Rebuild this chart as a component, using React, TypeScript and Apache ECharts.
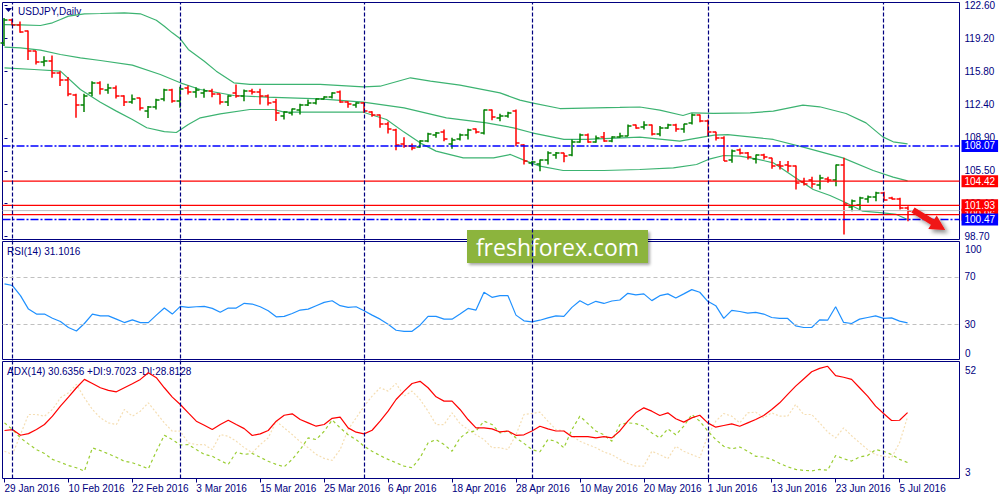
import { useEffect, useRef } from "react";
import * as echarts from "echarts";

// daily bars, 29 Jan 2016 .. 6 Jul 2016 (index 0..113)
const open = [
  118.7, 121.05, 120.6, 119.95, 117.85, 116.8, 116.9, 115.6, 114.9, 113.3,
  112.3, 113.5, 114.6, 113.9, 114.1, 113.2, 112.6, 113.0, 111.7, 112.1,
  112.9, 113.9, 112.7, 114.1, 113.6, 113.5, 113.8, 113.4, 112.6, 113.5,
  113.2, 113.8, 113.7, 113.2, 112.6, 111.2, 111.5, 111.8, 112.3, 112.5,
  112.9, 113.1, 113.6, 112.6, 112.3, 112.5, 111.6, 111.3, 110.3, 109.7,
  108.3, 108.1, 108.0, 108.6, 109.2, 109.5, 108.3, 108.8, 109.2, 109.8,
  109.4, 111.8, 111.0, 111.2, 111.7, 108.2, 106.3, 106.2, 106.6, 107.1,
  107.3, 107.1, 108.5, 109.2, 108.5, 109.0, 108.6, 109.0, 109.1, 110.2,
  110.0, 110.2, 109.3, 109.9, 110.2, 109.8, 110.4, 111.3, 110.7, 109.5,
  108.9, 106.6, 107.6, 107.3, 106.7, 107.1, 106.8, 106.1, 106.1, 106.0,
  104.3, 104.5, 104.0, 104.7, 104.5, 106.1, 101.8, 102.0, 102.6, 102.8,
  103.2, 102.65, 102.6, 101.7,
];
const high = [
  121.3, 121.22, 120.94, 120.01, 117.88, 117.36, 117.43, 115.81, 115.19, 113.46,
  113.46, 114.77, 114.77, 114.5, 114.32, 113.32, 113.39, 113.05, 112.19, 112.95,
  113.98, 113.98, 114.19, 114.32, 114.15, 113.98, 113.98, 113.46, 113.32, 114.42,
  113.9, 113.98, 113.98, 113.39, 112.95, 111.67, 111.95, 112.43, 112.88, 112.98,
  113.22, 113.63, 113.81, 112.7, 112.6, 112.6, 111.67, 111.32, 110.56, 109.84,
  108.98, 108.32, 108.67, 109.43, 109.5, 109.77, 108.91, 109.36, 109.84, 109.87,
  111.84, 111.84, 111.39, 111.6, 111.84, 108.25, 106.5, 106.67, 107.53, 107.43,
  107.36, 108.74, 109.36, 109.36, 109.15, 109.5, 109.08, 109.43, 110.29, 110.29,
  110.63, 110.29, 110.12, 110.36, 110.36, 110.36, 111.43, 111.32, 110.8, 109.53,
  109.08, 107.7, 107.8, 107.43, 107.18, 107.25, 106.84, 106.5, 106.5, 106.05,
  104.77, 104.87, 105.08, 104.87, 106.15, 106.84, 102.53, 102.81, 102.94, 103.32,
  103.32, 102.81, 102.7, 101.84,
];
const low = [
  118.4, 120.53, 119.77, 116.95, 116.5, 116.32, 115.12, 114.26, 113.22, 110.98,
  111.57, 113.22, 113.39, 113.46, 112.98, 112.19, 112.43, 111.74, 110.95, 111.84,
  112.7, 112.53, 112.02, 113.39, 113.05, 113.05, 113.12, 112.36, 112.19, 113.05,
  112.7, 113.39, 112.36, 112.26, 110.64, 110.81, 111.22, 111.33, 112.19, 112.36,
  112.88, 112.98, 112.53, 112.01, 112.01, 111.5, 111.08, 109.94, 109.36, 107.63,
  107.87, 107.63, 107.87, 108.46, 108.91, 108.56, 107.77, 108.63, 108.74, 109.36,
  109.25, 110.74, 110.63, 110.98, 108.05, 106.15, 106.05, 105.46, 106.15, 106.74,
  106.39, 107.01, 108.39, 108.39, 108.39, 108.5, 108.46, 108.91, 109.08, 109.84,
  109.77, 109.15, 109.08, 109.84, 109.53, 109.43, 110.29, 110.53, 109.08, 108.63,
  106.5, 106.32, 107.18, 106.67, 106.25, 106.67, 105.7, 105.63, 105.39, 103.56,
  103.98, 103.74, 103.56, 104.25, 103.91, 98.91, 101.32, 101.5, 102.19, 102.36,
  102.43, 102.53, 101.5, 100.29,
];
const close = [
  121.1, 120.6, 119.9, 117.85, 116.8, 116.9, 115.6, 114.9, 113.4, 112.35,
  113.2, 114.6, 114.0, 114.1, 113.2, 112.6, 112.9, 112.0, 112.1, 112.85,
  113.9, 112.7, 114.0, 113.7, 113.9, 113.8, 113.4, 112.6, 113.2, 113.2,
  113.8, 113.7, 113.2, 112.5, 111.5, 111.6, 111.9, 112.3, 112.5, 112.9,
  113.1, 113.5, 112.6, 112.4, 112.5, 111.7, 111.3, 110.3, 109.8, 108.2,
  108.1, 107.9, 108.6, 109.3, 109.4, 108.8, 108.7, 109.2, 109.7, 109.5,
  111.8, 111.1, 111.2, 111.5, 108.4, 106.5, 106.4, 106.6, 107.3, 107.3,
  107.0, 108.5, 109.2, 108.5, 108.9, 108.6, 109.0, 109.1, 110.1, 109.9,
  110.2, 109.3, 109.9, 110.2, 109.8, 110.3, 111.3, 110.7, 109.5, 108.9,
  106.55, 107.5, 107.3, 106.9, 107.1, 106.9, 106.0, 106.0, 106.0, 104.2,
  104.1, 104.1, 104.8, 104.5, 106.1, 102.1, 102.4, 102.7, 102.8, 103.2,
  102.5, 102.6, 101.6, 101.38,
];

// Bollinger bands: [bar index, price]
const bbUpper = [
  [0, 120.63], [2, 120.6], [4.5, 120.53], [6, 120.81], [7, 121.15], [8, 121.5],
  [10, 121.74], [12, 121.77], [15, 121.84], [17, 121.74], [19, 121.08], [20, 120.46],
  [21, 119.77], [22, 119.15], [23, 118.05], [25, 116.84], [26.5, 115.81], [28.7, 114.6],
  [30.7, 114.43], [35, 114.43], [39.5, 114.43], [44.9, 114.19], [47, 114.25],
  [50.8, 115.12], [53.3, 114.77], [57, 114.36], [62, 113.56], [64.5, 112.81],
  [66, 112.53], [69.5, 111.94], [77, 112.05], [79.5, 112.1], [82, 111.77],
  [84.9, 111.22], [86, 111.5], [88.7, 111.43], [93.3, 111.5], [96.2, 111.67],
  [99.9, 112.29], [102, 112.12], [105.3, 111.43], [107.8, 110.46], [109.9, 109.01],
  [111.2, 108.5], [113, 108.29],
];
const bbMiddle = [
  [0, 118.29], [2, 118.22], [4.5, 117.98], [7, 117.53], [9.5, 117.19], [12, 116.91],
  [16, 116.43], [19.5, 115.46], [22, 114.6], [24.5, 113.91], [28.7, 113.29],
  [32.8, 113.12], [39.5, 112.94], [44.9, 112.6], [50, 112.01], [55.3, 110.98],
  [60.3, 110.46], [63.7, 109.94], [66, 109.43], [70, 108.74], [72.8, 108.74],
  [79.5, 108.98], [84.5, 108.56], [88.8, 109.19], [90.5, 109.25], [96.2, 108.74],
  [100.3, 107.87], [104.9, 106.84], [108.7, 105.53], [111.2, 104.84], [113, 104.45],
];
const bbLower = [
  [0, 116.15], [3.7, 115.98], [7, 115.81], [9.5, 113.91], [12, 112.6], [14, 111.67],
  [16, 110.81], [17.8, 109.95], [20, 109.55], [21.5, 109.46], [23, 110.29],
  [24.5, 110.98], [27, 111.39], [30.7, 111.84], [33.7, 111.84], [35, 111.57],
  [39.5, 111.56], [44.9, 111.56], [47.8, 110.81], [50, 109.5], [52, 108.39],
  [54, 107.53], [57.4, 106.84], [61.2, 106.84], [63.3, 107.19], [65.3, 106.5],
  [67, 105.98], [69.9, 105.53], [75, 105.53], [79.5, 105.63], [83.7, 105.8],
  [86.6, 106.15], [88.3, 106.74], [90, 107.08], [92, 107.01], [94, 106.74],
  [96.2, 106.32], [98.7, 104.94], [101.2, 103.56], [103.3, 102.94], [105.3, 102.19],
  [107.4, 101.32], [109.9, 101.15], [111.6, 100.98], [113, 100.46],
];

const rsi = [
  64.1, 62.7, 54.1, 42.7, 38.5, 38.5, 35.0, 32.2, 27.1, 24.2,
  30.5, 38.5, 37.0, 37.0, 34.2, 31.3, 33.6, 31.3, 31.3, 37.6,
  43.6, 38.5, 45.0, 44.2, 44.7, 45.0, 43.3, 40.0, 43.6, 43.6,
  47.6, 47.0, 44.7, 41.3, 36.2, 36.5, 39.0, 41.9, 42.7, 45.6,
  48.4, 49.8, 45.6, 44.2, 44.7, 41.3, 37.6, 34.2, 29.9, 24.8,
  23.9, 23.9, 29.1, 36.5, 36.5, 34.2, 34.2, 38.5, 43.3, 41.9,
  57.0, 52.7, 54.1, 54.1, 37.6, 32.8, 31.9, 33.3, 35.3, 37.0,
  36.5, 44.2, 49.8, 46.2, 49.3, 47.5, 49.6, 50.4, 56.1, 54.7,
  55.6, 49.9, 54.1, 55.6, 52.1, 55.6, 59.2, 57.0, 49.3, 45.6,
  34.8, 41.6, 40.7, 39.3, 39.9, 38.5, 35.6, 34.8, 34.8, 28.5,
  27.1, 27.1, 33.6, 33.3, 44.7, 31.4, 30.5, 34.2, 35.6, 37.0,
  34.8, 35.3, 32.5, 31.1,
];
const adx = [
  23.1, 23.5, 21.1, 21.8, 23.5, 25.6, 29.1, 33.3, 37.1, 41.0,
  44.5, 42.8, 41.0, 39.9, 39.3, 41.0, 42.7, 44.5, 47.3, 45.2,
  41.0, 37.1, 34.0, 30.5, 27.0, 25.3, 23.5, 25.6, 27.4, 25.6,
  23.9, 21.0, 21.7, 23.1, 27.0, 29.5, 30.1, 27.7, 26.3, 24.9,
  25.6, 28.2, 28.7, 24.2, 22.4, 21.7, 23.2, 27.0, 31.2, 36.1,
  39.6, 42.8, 43.7, 41.0, 37.2, 35.4, 35.4, 31.9, 27.7, 24.2,
  24.2, 23.8, 22.5, 22.9, 21.1, 21.3, 22.9, 24.9, 23.8, 22.9,
  22.9, 20.5, 20.5, 20.5, 20.0, 20.5, 20.0, 22.9, 27.0, 30.5,
  32.6, 31.2, 29.4, 30.5, 28.0, 26.6, 28.4, 29.5, 26.3, 24.5,
  25.2, 25.9, 24.9, 26.3, 27.7, 29.4, 31.9, 34.7, 38.2, 41.7,
  44.7, 47.7, 49.1, 50.0, 46.1, 45.4, 44.5, 41.0, 37.5, 33.3,
  30.2, 27.3, 27.4, 30.6,
];
const plusDi = [
  26.3, 23.5, 20.0, 17.5, 15.1, 13.5, 11.0, 9.8, 8.4, 7.5,
  6.1, 15.8, 14.7, 13.3, 11.9, 10.2, 9.6, 8.4, 7.1, 14.4,
  21.1, 19.3, 17.0, 17.2, 15.1, 13.1, 12.3, 10.5, 8.9, 14.0,
  13.1, 13.5, 11.9, 10.2, 8.9, 7.9, 11.0, 15.1, 20.0, 19.3,
  22.8, 27.5, 24.2, 21.3, 19.3, 16.5, 14.4, 12.6, 11.0, 9.6,
  8.2, 7.5, 11.7, 17.9, 19.3, 17.2, 14.4, 20.0, 22.5, 22.9,
  27.0, 25.6, 22.1, 22.9, 20.0, 17.7, 15.1, 14.2, 19.3, 18.6,
  15.9, 23.5, 29.1, 26.0, 22.9, 21.3, 18.6, 25.6, 26.3, 26.0,
  24.9, 22.1, 20.0, 23.8, 21.3, 24.9, 29.8, 27.0, 22.9, 19.3,
  16.5, 15.4, 16.2, 14.4, 12.3, 12.0, 11.0, 9.3, 7.9, 6.8,
  6.4, 6.2, 6.8, 6.5, 12.6, 11.3, 10.3, 12.0, 12.6, 15.1,
  14.4, 13.0, 11.0, 9.7,
];
const minusDi = [
  14.4, 13.1, 21.4, 29.8, 29.8, 29.1, 31.9, 36.8, 38.9, 42.4,
  36.8, 31.9, 28.4, 26.3, 25.6, 31.9, 29.1, 31.2, 34.7, 30.5,
  26.3, 22.8, 22.8, 17.9, 17.2, 17.2, 15.1, 21.4, 20.7, 18.6,
  15.9, 13.8, 17.2, 20.0, 27.0, 24.2, 21.4, 18.4, 15.9, 13.1,
  11.4, 10.6, 15.1, 23.5, 28.4, 33.3, 37.5, 41.0, 39.6, 42.8,
  37.5, 39.6, 36.1, 31.2, 25.6, 25.6, 30.5, 26.0, 23.5, 21.3,
  19.3, 15.9, 15.9, 15.1, 21.3, 29.8, 30.2, 30.8, 27.0, 23.5,
  22.9, 20.9, 18.6, 17.2, 15.9, 14.1, 13.0, 11.0, 9.3, 8.2,
  8.2, 14.4, 13.0, 11.3, 16.5, 14.4, 13.0, 11.7, 20.9, 27.0,
  30.2, 29.1, 26.3, 30.5, 30.8, 28.4, 30.5, 29.1, 29.1, 34.0,
  29.8, 29.8, 26.3, 22.5, 20.0, 24.2, 20.9, 18.0, 15.1, 13.0,
  12.3, 11.7, 18.0, 28.8,
];

const dateTicks = [
  "29 Jan 2016", "10 Feb 2016", "22 Feb 2016", "3 Mar 2016", "15 Mar 2016",
  "25 Mar 2016", "6 Apr 2016", "18 Apr 2016", "28 Apr 2016", "10 May 2016",
  "20 May 2016", "1 Jun 2016", "13 Jun 2016", "23 Jun 2016", "5 Jul 2016",
];
const dateTickIndex = [0, 8, 16, 24, 32, 40, 48, 56, 64, 72, 80, 88, 96, 104, 112];
const monthStarts = [1, 22, 45, 66, 88, 110];
const priceTicks = [98.7, 102.1, 105.5, 108.9, 112.4, 115.8, 119.2, 122.6];
const redLevels = [100.96, 101.93, 104.42];
const blueLevels = [108.07, 100.47];
const rsiLevels = [30, 70];

const navy = "#000080";
const bull = "#008000";
const bear = "#FF0000";
const blue = "#0000FF";
const font = "'Liberation Sans', Arial, sans-serif";
const xMin = -0.25;
const xMax = 119.5;

const App = () => {
  const chartRef = useRef<HTMLDivElement>(null);

  useEffect(() => {
    if (!chartRef.current) return;
    const chart = echarts.init(chartRef.current, undefined, { renderer: "svg" });

    const bars = open.map((o, i) => [i, o, high[i], low[i], close[i]]);
    const lastClose = close[close.length - 1];

    const renderBar = (_params: any, api: any) => {
      const i = api.value(0);
      const o = api.value(1);
      const h = api.value(2);
      const l = api.value(3);
      const c = api.value(4);
      const top = api.coord([i, h]);
      const bottom = api.coord([i, l]);
      const x = Math.round(top[0]);
      const yo = Math.round(api.coord([i, o])[1]);
      const yc = Math.round(api.coord([i, c])[1]);
      const stroke = c >= o ? bull : bear;
      const w = 1.5;
      return {
        type: "group",
        children: [
          { type: "line", shape: { x1: x, y1: top[1], x2: x, y2: bottom[1] }, style: { stroke, lineWidth: w } },
          { type: "line", shape: { x1: x - 3.5, y1: yo, x2: x, y2: yo }, style: { stroke, lineWidth: w } },
          { type: "line", shape: { x1: x, y1: yc, x2: x + 3.5, y2: yc }, style: { stroke, lineWidth: w } },
        ],
      };
    };

    // a horizontal price level drawn across the whole main panel, with its price box on the axis
    const level = (value: number, color: string, type: any, width: number, boxed: boolean) => ({
      type: "line",
      xAxisIndex: 0,
      yAxisIndex: 0,
      data: [
        [xMin, value],
        [xMax, value],
      ],
      showSymbol: false,
      silent: true,
      clip: false,
      z: 4,
      lineStyle: { color, width, type },
      endLabel: {
        show: boxed,
        distance: 2,
        formatter: () => value.toFixed(2),
        color: "#fff",
        backgroundColor: color,
        padding: [1, 3, 0, 3],
        lineHeight: 11,
        fontSize: 10,
        fontFamily: font,
      },
    });

    const hidden = { show: false };
    const xAxisBase = { type: "value", min: xMin, max: xMax, splitLine: hidden };

    const option: any = {
      animation: false,
      backgroundColor: "#fff",
      textStyle: { fontFamily: font },
      grid: [
        { left: 2.5, top: 2.5, width: 957, height: 237, show: true, borderColor: navy, borderWidth: 1 },
        { left: 2.5, top: 241.5, width: 957, height: 118, show: true, borderColor: navy, borderWidth: 1 },
        { left: 2.5, top: 361.5, width: 957, height: 117, show: true, borderColor: navy, borderWidth: 1 },
        { left: 2.5, top: 2.5, width: 957, height: 476, show: false },
      ],
      xAxis: [
        { ...xAxisBase, gridIndex: 0, show: false },
        { ...xAxisBase, gridIndex: 1, show: false },
        {
          ...xAxisBase,
          gridIndex: 2,
          axisLine: hidden,
          axisTick: { show: true, customValues: dateTickIndex, length: 4, lineStyle: { color: navy } },
          axisLabel: {
            customValues: dateTickIndex,
            formatter: (v: number) => dateTicks[dateTickIndex.indexOf(v)] ?? "",
            color: navy,
            fontSize: 10,
            fontFamily: font,
            align: "left",
            margin: 5,
          },
        },
        { ...xAxisBase, gridIndex: 3, show: false },
      ],
      yAxis: [
        {
          type: "value",
          gridIndex: 0,
          position: "right",
          min: 98.39,
          max: 122.91,
          axisLine: hidden,
          splitLine: hidden,
          axisTick: { show: true, customValues: priceTicks, length: 3, lineStyle: { color: navy } },
          axisLabel: {
            customValues: priceTicks,
            formatter: (v: number) => v.toFixed(2),
            color: navy,
            fontSize: 10,
            fontFamily: font,
            margin: 5,
          },
        },
        {
          type: "value",
          gridIndex: 1,
          position: "right",
          min: 0,
          max: 100,
          axisLine: hidden,
          splitLine: hidden,
          axisTick: { show: true, customValues: rsiLevels, length: 3, lineStyle: { color: navy } },
          axisLabel: { customValues: rsiLevels, color: navy, fontSize: 10, fontFamily: font, margin: 5 },
        },
        {
          type: "value",
          gridIndex: 2,
          position: "right",
          min: 3,
          max: 52,
          axisLine: hidden,
          splitLine: hidden,
          axisTick: hidden,
          axisLabel: hidden,
        },
        { type: "value", gridIndex: 3, min: 0, max: 1, show: false },
      ],
      series: [
        {
          type: "line",
          xAxisIndex: 3,
          yAxisIndex: 3,
          data: [[0, -1]],
          showSymbol: false,
          z: 1,
          silent: true,
          markLine: {
            silent: true,
            symbol: ["none", "none"],
            label: hidden,
            lineStyle: { color: navy, type: [4, 2], width: 1.2 },
            data: monthStarts.map((v) => ({ xAxis: v })),
          },
        },
        ...[bbUpper, bbMiddle, bbLower].map((band) => ({
          type: "line",
          xAxisIndex: 0,
          yAxisIndex: 0,
          data: band,
          showSymbol: false,
          silent: true,
          lineStyle: { color: "#3CB371", width: 1.2 },
          z: 2,
        })),
        {
          type: "custom",
          name: "USDJPY",
          xAxisIndex: 0,
          yAxisIndex: 0,
          data: bars,
          encode: { x: 0, y: [1, 2, 3, 4] },
          renderItem: renderBar,
          clip: false,
          z: 3,
        },
        level(lastClose, "#C0C0C0", "solid", 1, false),
        ...redLevels.map((v) => level(v, bear, "solid", 1.2, true)),
        ...blueLevels.map((v) => level(v, blue, [8, 2, 2, 2], 1.5, true)),
        {
          type: "line",
          xAxisIndex: 1,
          yAxisIndex: 1,
          data: rsi.map((v, i) => [i, v]),
          showSymbol: false,
          lineStyle: { color: "#1E90FF", width: 1.2 },
          markLine: {
            silent: true,
            symbol: ["none", "none"],
            label: hidden,
            lineStyle: { color: "#C0C0C0", type: [4, 3], width: 1 },
            data: rsiLevels.map((v) => ({ yAxis: v })),
          },
        },
        {
          type: "line",
          xAxisIndex: 2,
          yAxisIndex: 2,
          data: minusDi.map((v, i) => [i, v]),
          showSymbol: false,
          lineStyle: { color: "#F5DEB3", width: 1.2, type: [2, 2] },
        },
        {
          type: "line",
          xAxisIndex: 2,
          yAxisIndex: 2,
          data: plusDi.map((v, i) => [i, v]),
          showSymbol: false,
          lineStyle: { color: "#9ACD32", width: 1.2, type: [3, 3] },
        },
        {
          type: "line",
          xAxisIndex: 2,
          yAxisIndex: 2,
          data: adx.map((v, i) => [i, v]),
          showSymbol: false,
          lineStyle: { color: "#FF0000", width: 1.2 },
        },
      ],
      graphic: [
        { type: "polygon", shape: { points: [[5, 8], [12, 8], [8.5, 12]] }, style: { fill: navy } },
        {
          type: "text",
          x: 18,
          y: 11,
          style: { text: "USDJPY,Daily", fill: navy, fontSize: 10, fontFamily: font, verticalAlign: "middle" },
        },
        {
          type: "text",
          x: 7,
          y: 251,
          style: { text: "RSI(14) 31.1016", fill: navy, fontSize: 10, fontFamily: font, verticalAlign: "middle" },
        },
        {
          type: "text",
          x: 7,
          y: 371,
          style: {
            text: "ADX(14) 30.6356 +DI:9.7023 -DI:28.8128",
            fill: navy,
            fontSize: 10,
            fontFamily: font,
            verticalAlign: "middle",
          },
        },
        ...[
          ["100", 249],
          ["0", 353],
          ["52", 370],
          ["3", 472],
        ].map(([t, y]) => ({
          type: "text",
          x: 965,
          y: y as number,
          style: { text: t as string, fill: navy, fontSize: 10, fontFamily: font, verticalAlign: "middle" },
        })),
        {
          type: "group",
          z: 100,
          children: [
            {
              type: "rect",
              shape: { x: 467, y: 230, width: 181, height: 33 },
              style: {
                fill: "#8CB43E",
                shadowBlur: 3,
                shadowColor: "rgba(0,0,0,0.35)",
                shadowOffsetX: 2,
                shadowOffsetY: 2,
              },
            },
            {
              type: "text",
              x: 557.5,
              y: 247,
              style: {
                text: "freshforex.com",
                fill: "#fff",
                fontSize: 23,
                fontFamily: "'Open Sans', sans-serif",
                align: "center",
                verticalAlign: "middle",
              },
            },
          ],
        },
        {
          type: "polygon",
          z: 100,
          shape: {
            points: [
              [914.6, 207.5],
              [934.1, 219.6],
              [936.7, 215.4],
              [945.2, 230.1],
              [928.3, 229.0],
              [930.9, 224.7],
              [911.4, 212.5],
            ],
          },
          style: {
            fill: "#F01414",
            shadowBlur: 4,
            shadowColor: "rgba(0,0,0,0.45)",
            shadowOffsetX: 3,
            shadowOffsetY: 3,
          },
        },
      ],
    };

    chart.setOption(option);
    return () => {
      chart.dispose();
    };
  }, []);

  return (
    <div
      ref={chartRef}
      style={{ position: "absolute", left: 0, top: 0, width: "1000px", height: "500px" }}
    />
  );
};

export default App;
